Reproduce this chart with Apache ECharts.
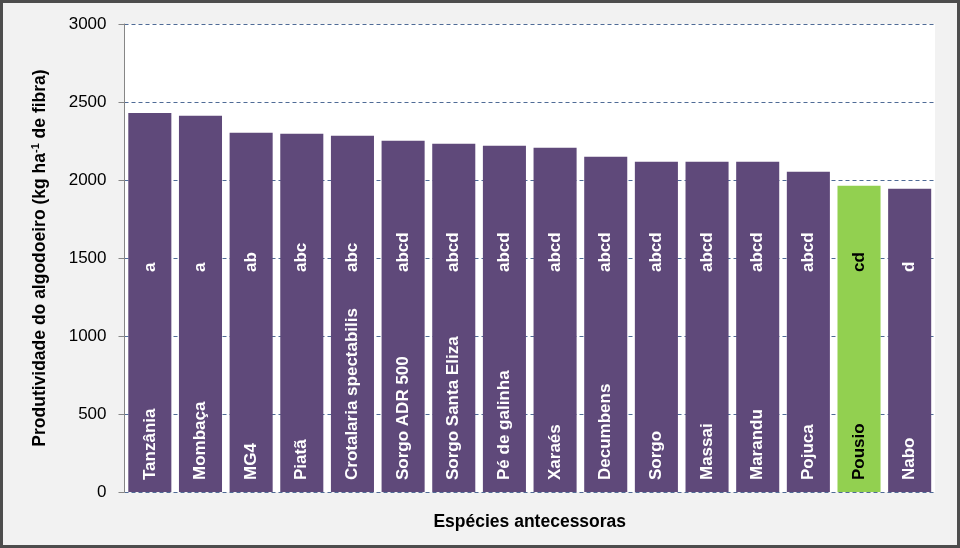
<!DOCTYPE html>
<html>
<head>
<meta charset="utf-8">
<script src="https://cdn.jsdelivr.net/npm/echarts@6/dist/echarts.min.js"></script>
<style>
  html, body { margin: 0; padding: 0; background: #fff; }
  #chart {
    width: 960px;
    height: 548px;
    box-sizing: border-box;
    border: 3px solid #4d4d4d;
    background: #f2f2f2;
  }
</style>
</head>
<body>
<div id="chart"></div>
<script>
// espécies antecessoras
const categories = ['Tanzânia', 'Mombaça', 'MG4', 'Piatã', 'Crotalaria spectabilis', 'Sorgo ADR 500',
  'Sorgo Santa Eliza', 'Pé de galinha', 'Xaraés', 'Decumbens', 'Sorgo', 'Massai', 'Marandu',
  'Pojuca', 'Pousio', 'Nabo']
// produtividade (kg/ha de fibra)
const values = [2429, 2412, 2303, 2296, 2284, 2252, 2233, 2220, 2207, 2149, 2117, 2117, 2117,
  2053, 1963, 1944]
// letras do teste de médias
const letters = ['a', 'a', 'ab', 'abc', 'abc', 'abcd', 'abcd', 'abcd', 'abcd', 'abcd', 'abcd',
  'abcd', 'abcd', 'abcd', 'cd', 'd']
const yTicks = { min: 0, max: 3000, interval: 500 }

const purple = '#5f497a'
const green = '#92d050'
const font = '"Liberation Sans", Arial, sans-serif'

const chart = echarts.init(document.getElementById('chart'))

const isControl = name => name === 'Pousio'

const barData = categories.map((name, i) => ({
  value: values[i],
  itemStyle: { color: isControl(name) ? green : purple },
  label: { color: isControl(name) ? '#000' : '#fff' }
}))

const letterData = categories.map((name, i) => ({
  value: values[i],
  label: { color: isControl(name) ? '#000' : '#fff' }
}))

chart.setOption({
  animation: false,
  textStyle: { fontFamily: font },
  grid: {
    left: 121.5,
    right: 22,
    top: 21,
    bottom: 53,
    show: true,
    backgroundColor: '#fff',
    borderWidth: 0
  },
  xAxis: {
    type: 'category',
    data: categories,
    name: 'Espécies antecessoras',
    nameLocation: 'middle',
    nameGap: 21,
    nameTextStyle: { fontSize: 17.5, fontWeight: 'bold', color: '#000', fontFamily: font },
    axisLine: { show: false },
    axisTick: { show: false },
    axisLabel: { show: false }
  },
  yAxis: {
    type: 'value',
    min: yTicks.min,
    max: yTicks.max,
    interval: yTicks.interval,
    name: '{t|Produtividade do algodoeiro (kg ha}{s|-1}{t| de fibra)}',
    nameLocation: 'middle',
    nameGap: 74,
    nameTextStyle: {
      rich: {
        t: { fontSize: 17.5, fontWeight: 'bold', color: '#000', fontFamily: font, lineHeight: 20 },
        s: { fontSize: 11, fontWeight: 'bold', color: '#000', fontFamily: font, verticalAlign: 'top', lineHeight: 20 }
      }
    },
    axisLine: { show: true, lineStyle: { color: '#868686', width: 1 } },
    axisTick: { show: true, inside: false, length: 6, lineStyle: { color: '#868686' } },
    axisLabel: { fontSize: 17, color: '#000', margin: 18, fontFamily: font, formatter: v => String(v) },
    splitLine: { show: true, lineStyle: { color: '#4f6b96', type: [4, 3], width: 1 } }
  },
  series: [
    {
      type: 'bar',
      data: barData,
      barCategoryGap: '15%',
      label: {
        show: true,
        position: 'insideBottom',
        rotate: 90,
        align: 'left',
        verticalAlign: 'middle',
        distance: 12,
        fontSize: 17,
        fontWeight: 'bold',
        fontFamily: font,
        formatter: p => p.name
      }
    },
    {
      type: 'bar',
      data: letterData,
      barGap: '-100%',
      barCategoryGap: '15%',
      silent: true,
      itemStyle: { color: 'rgba(0,0,0,0)' },
      label: {
        show: true,
        position: 'insideBottom',
        rotate: 90,
        align: 'left',
        verticalAlign: 'middle',
        distance: 220,
        fontSize: 17,
        fontWeight: 'bold',
        fontFamily: font,
        formatter: p => letters[p.dataIndex]
      }
    }
  ]
})
</script>
</body>
</html>
